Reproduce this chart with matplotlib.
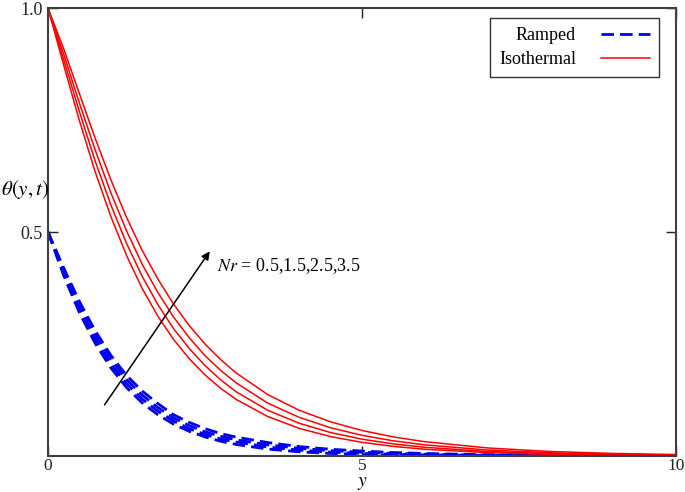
import matplotlib
matplotlib.use('Agg')
import matplotlib.pyplot as plt

plt.rcParams['font.family'] = ['Liberation Serif', 'DejaVu Serif']
plt.rcParams['mathtext.fontset'] = 'stix'

# значения кривых
y_vals = [0, 0.25, 0.5, 0.75, 1, 1.25, 1.5, 1.75, 2, 2.25, 2.5, 2.75, 3,
          3.5, 4, 4.5, 5, 5.5, 6, 7, 8, 9, 10]
nr_values = [0.5, 1.5, 2.5, 3.5]

theta_iso_05 = [1.0, 0.873, 0.749, 0.635, 0.535, 0.448, 0.374, 0.312, 0.260, 0.217, 0.181, 0.151, 0.126,
                0.088, 0.0617, 0.0433, 0.0304, 0.0214, 0.0150, 0.0075, 0.0037, 0.0018, 0.0009]
theta_iso_15 = [1.0, 0.885, 0.769, 0.659, 0.561, 0.475, 0.401, 0.338, 0.284, 0.240, 0.202, 0.170, 0.143,
                0.102, 0.0731, 0.0523, 0.0375, 0.0269, 0.0194, 0.0100, 0.0052, 0.0027, 0.0014]
theta_iso_25 = [1.0, 0.897, 0.788, 0.684, 0.588, 0.503, 0.428, 0.365, 0.310, 0.264, 0.224, 0.191, 0.163,
                0.118, 0.0862, 0.0630, 0.0461, 0.0338, 0.0248, 0.0133, 0.0072, 0.0039, 0.0021]
theta_iso_35 = [1.0, 0.909, 0.809, 0.710, 0.617, 0.533, 0.459, 0.395, 0.339, 0.291, 0.250, 0.215, 0.185,
                0.137, 0.102, 0.0762, 0.0569, 0.0425, 0.0319, 0.0179, 0.0100, 0.0057, 0.0032]

theta_ramp_05 = [0.5, 0.403, 0.320, 0.252, 0.197, 0.153, 0.1185, 0.092, 0.071, 0.055, 0.0426, 0.033, 0.0256,
                 0.0154, 0.0093, 0.0056, 0.0034, 0.002, 0.0012, 0.0005, 0.0002, 0.0001, 0.0]
theta_ramp_15 = [0.5, 0.409, 0.328, 0.261, 0.206, 0.162, 0.127, 0.100, 0.078, 0.061, 0.048, 0.038, 0.031,
                 0.020, 0.013, 0.0085, 0.0058, 0.0038, 0.0025, 0.0011, 0.0005, 0.0002, 0.0001]
theta_ramp_25 = [0.5, 0.415, 0.337, 0.271, 0.216, 0.171, 0.136, 0.108, 0.085, 0.068, 0.054, 0.044, 0.036,
                 0.025, 0.017, 0.0118, 0.0084, 0.0058, 0.004, 0.0019, 0.0009, 0.0004, 0.0002]
theta_ramp_35 = [0.5, 0.42, 0.345, 0.280, 0.225, 0.180, 0.145, 0.117, 0.092, 0.075, 0.061, 0.050, 0.042,
                 0.030, 0.021, 0.015, 0.011, 0.0078, 0.0055, 0.0028, 0.0014, 0.0007, 0.0004]

theta_iso = [theta_iso_05, theta_iso_15, theta_iso_25, theta_iso_35]
theta_ramp = [theta_ramp_05, theta_ramp_15, theta_ramp_25, theta_ramp_35]

fig = plt.figure(figsize=(6.85, 4.92), dpi=100)
ax = fig.add_axes([0.070, 0.0732, 0.917, 0.9105])

for i, vals in enumerate(theta_ramp):
    ax.plot(y_vals, vals, color='#0000ee', linestyle=(0, (4.5, 2.2)), linewidth=2.0,
            label='Ramped' if i == 0 else None)
for i, vals in enumerate(theta_iso):
    ax.plot(y_vals, vals, color='#ff0000', linewidth=1.1,
            label='Isothermal' if i == 0 else None)

ax.set_xlim(0, 10)
ax.set_ylim(0, 1.0)
ax.set_xticks([0, 5, 10])
ax.set_yticks([0.5, 1.0])
ax.set_yticklabels(['0.5', '1.0'])
ax.tick_params(direction='in', top=True, right=True, length=7, width=1.0,
               labelsize=13, colors='#222222')
ax.tick_params(axis='x', pad=1.5, labelsize=12.5)
for s in ax.spines.values():
    s.set_linewidth(1.5)
    s.set_color('#404040')

# подпись оси X прижата к нижнему краю, под цифрой 5
ax.set_xlabel(r'$y$', fontsize=14, va='bottom')
ax.xaxis.set_label_coords(0.5, -0.08)
ax.text(-0.037, 0.594, r'$\theta\left(y,t\right)$', transform=ax.transAxes,
        fontsize=15, ha='center', va='center')

ax.annotate('', xy=(2.60, 0.462), xytext=(0.876, 0.109),
            arrowprops=dict(arrowstyle='-|>', color='black', lw=1.1, mutation_scale=12))
ax.text(2.69, 0.424, r'$Nr$ = 0.5,1.5,2.5,3.5', fontsize=13, ha='left', va='center')

leg = ax.legend(loc='upper right', bbox_to_anchor=(0.973, 0.978), borderaxespad=0,
                markerfirst=False, fancybox=False, edgecolor='black', fontsize=13,
                handlelength=2.7, handletextpad=1.4, borderpad=0.5, labelspacing=0.4)
leg.get_frame().set_linewidth(1.0)

fig.savefig('out.png', dpi=100)
